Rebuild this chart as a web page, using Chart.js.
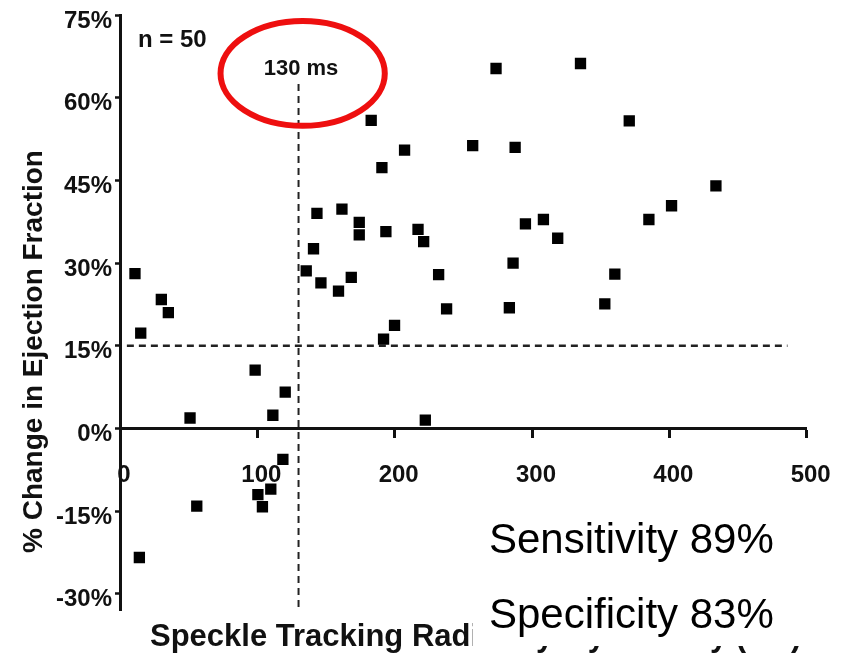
<!DOCTYPE html>
<html>
<head>
<meta charset="utf-8">
<script src="https://cdn.jsdelivr.net/npm/chart.js@4.4.1/dist/chart.umd.min.js"></script>
<style>
  html, body { margin: 0; padding: 0; background: #fff; }
  #wrap { width: 843px; height: 655px; }
</style>
</head>
<body>
<div id="wrap"><canvas id="c" width="843" height="655"></canvas></div>
<script>
// ---- data ----
const dyssynchronyMs = [
  10.9, 30.1, 35.2, 15.1, 182.9, 207.2, 190.7, 143.4, 161.6, 174.2,
  174.2, 193.6, 140.9, 135.6, 146.3, 159.1, 168.4, 199.9, 273.8, 335.3,
  370.8, 256.8, 287.7, 433.9, 401.6, 385.1, 217.0, 221.1, 295.2, 308.3,
  318.7, 232.0, 286.2, 360.3, 237.8, 283.5, 353.0, 191.9, 98.4, 120.3,
  111.3, 51.0, 118.6, 100.4, 109.8, 103.7, 55.9, 14.1, 222.3
];
const efChangePct = [
  28.1, 23.4, 21.0, 17.3, 55.9, 50.5, 47.3, 39.0, 39.8, 37.4,
  35.1, 35.7, 32.6, 28.6, 26.4, 24.9, 27.4, 18.7, 65.3, 66.2,
  55.8, 51.3, 51.0, 44.0, 40.4, 37.9, 36.1, 33.9, 37.1, 37.9,
  34.5, 27.9, 30.0, 28.0, 21.7, 21.9, 22.6, 16.2, 10.6, 6.6,
  2.4, 1.9, -5.6, -12.0, -11.0, -14.2, -14.1, -23.4, 1.5
];
const xTickValues = [0, 100, 200, 300, 400, 500];
const yTickValues = [-30, -15, 0, 15, 30, 45, 60, 75];
const cutoffX = [130, 130];
const cutoffXLineY = [62.5, -32.5];
const cutoffY = [15, 15];
const cutoffYLineX = [5, 486];

const xTitle = 'Speckle Tracking Radial Dyssynchrony (ms)';
const yTitle = '% Change in Ejection Fraction';
const nLabel = 'n = 50';
const cutoffLabel = '130 ms';
const sensLabel = 'Sensitivity 89%';
const specLabel = 'Specificity 83%';

const points = dyssynchronyMs.map((v, i) => ({ x: v, y: efChangePct[i] }));
const vLine = cutoffX.map((v, i) => ({ x: v, y: cutoffXLineY[i] }));
const hLine = cutoffYLineX.map((v, i) => ({ x: v, y: cutoffY[i] }));

const FONT = "'Liberation Sans', Arial, Helvetica, sans-serif";
const INK = '#111111';

const overlay = {
  id: 'overlay',
  afterDraw(chart) {
    const { ctx, scales: { x, y } } = chart;
    ctx.save();

    // red ellipse around the cutoff label
    const cx = x.getPixelForValue(133), cy = y.getPixelForValue(64.4);
    const rx = x.getPixelForValue(133 + 59.8) - cx;
    const ry = cy - y.getPixelForValue(64.4 + 9.5);
    ctx.strokeStyle = '#ee0f0f';
    ctx.lineWidth = 6;
    ctx.beginPath();
    ctx.ellipse(cx, cy, rx, ry, 0, 0, Math.PI * 2);
    ctx.stroke();

    ctx.fillStyle = INK;
    ctx.textBaseline = 'alphabetic';

    // 130 ms
    ctx.font = 'bold 22px ' + FONT;
    ctx.textAlign = 'center';
    ctx.fillText(cutoffLabel, 301, 75);

    // n = 50
    ctx.font = 'bold 24px ' + FONT;
    ctx.textAlign = 'left';
    ctx.fillText(nLabel, 138, 46.5);

    // y title
    ctx.save();
    ctx.translate(42, 351.5);
    ctx.rotate(-Math.PI / 2);
    ctx.font = 'bold 28px ' + FONT;
    ctx.textAlign = 'center';
    ctx.fillText(yTitle, 0, 0);
    ctx.restore();

    // x title
    ctx.font = 'bold 31px ' + FONT;
    ctx.textAlign = 'left';
    ctx.fillText(xTitle, 150, 646);

    // white text box pasted over the chart
    ctx.fillStyle = '#ffffff';
    ctx.fillRect(473, 500, 370, 146);

    ctx.fillStyle = '#000000';
    ctx.font = '42px ' + FONT;
    ctx.textAlign = 'left';
    ctx.fillText(sensLabel, 489, 553);
    ctx.fillText(specLabel, 489, 628);

    ctx.restore();
  }
};

new Chart(document.getElementById('c'), {
  type: 'scatter',
  data: {
    datasets: [
      {
        data: points,
        pointStyle: 'rect',
        pointRadius: 8,
        pointHoverRadius: 8,
        backgroundColor: '#000000',
        borderWidth: 0
      },
      {
        type: 'line',
        data: vLine,
        borderColor: '#222222',
        borderWidth: 2,
        borderDash: [7, 5],
        pointRadius: 0,
        fill: false
      },
      {
        type: 'line',
        data: hLine,
        borderColor: '#222222',
        borderWidth: 2.5,
        borderDash: [7, 5],
        pointRadius: 0,
        fill: false
      }
    ]
  },
  options: {
    responsive: false,
    animation: false,
    events: [],
    layout: { padding: { left: 0, right: 36.3, top: 15, bottom: 44.6 } },
    plugins: { legend: { display: false }, tooltip: { enabled: false } },
    scales: {
      x: {
        type: 'linear',
        min: 0,
        max: 500,
        position: { y: 0 },
        afterBuildTicks: s => { s.ticks = xTickValues.map(v => ({ value: v })); },
        afterFit: s => { s.height = 0; },
        ticks: {
          font: { family: FONT, size: 24, weight: 'bold', lineHeight: 3.25 },
          color: INK,
          padding: 0,
          labelOffset: 4,
          maxRotation: 0
        },
        grid: { drawOnChartArea: false, drawTicks: true, tickLength: 8, tickWidth: 3, tickColor: INK },
        border: { display: true, width: 3, color: INK }
      },
      y: {
        type: 'linear',
        min: -33,
        max: 75,
        afterBuildTicks: s => { s.ticks = yTickValues.map(v => ({ value: v })); },
        afterFit: s => { s.width = 120; },
        ticks: {
          font: { family: FONT, size: 24, weight: 'bold', lineHeight: 1 },
          color: INK,
          padding: 3,
          labelOffset: 6,
          callback: v => v + '%'
        },
        grid: { drawOnChartArea: false, drawTicks: true, tickLength: 5, tickWidth: 2.5, tickColor: INK },
        border: { display: true, width: 3, color: INK }
      }
    }
  },
  plugins: [overlay]
});
</script>
</body>
</html>
